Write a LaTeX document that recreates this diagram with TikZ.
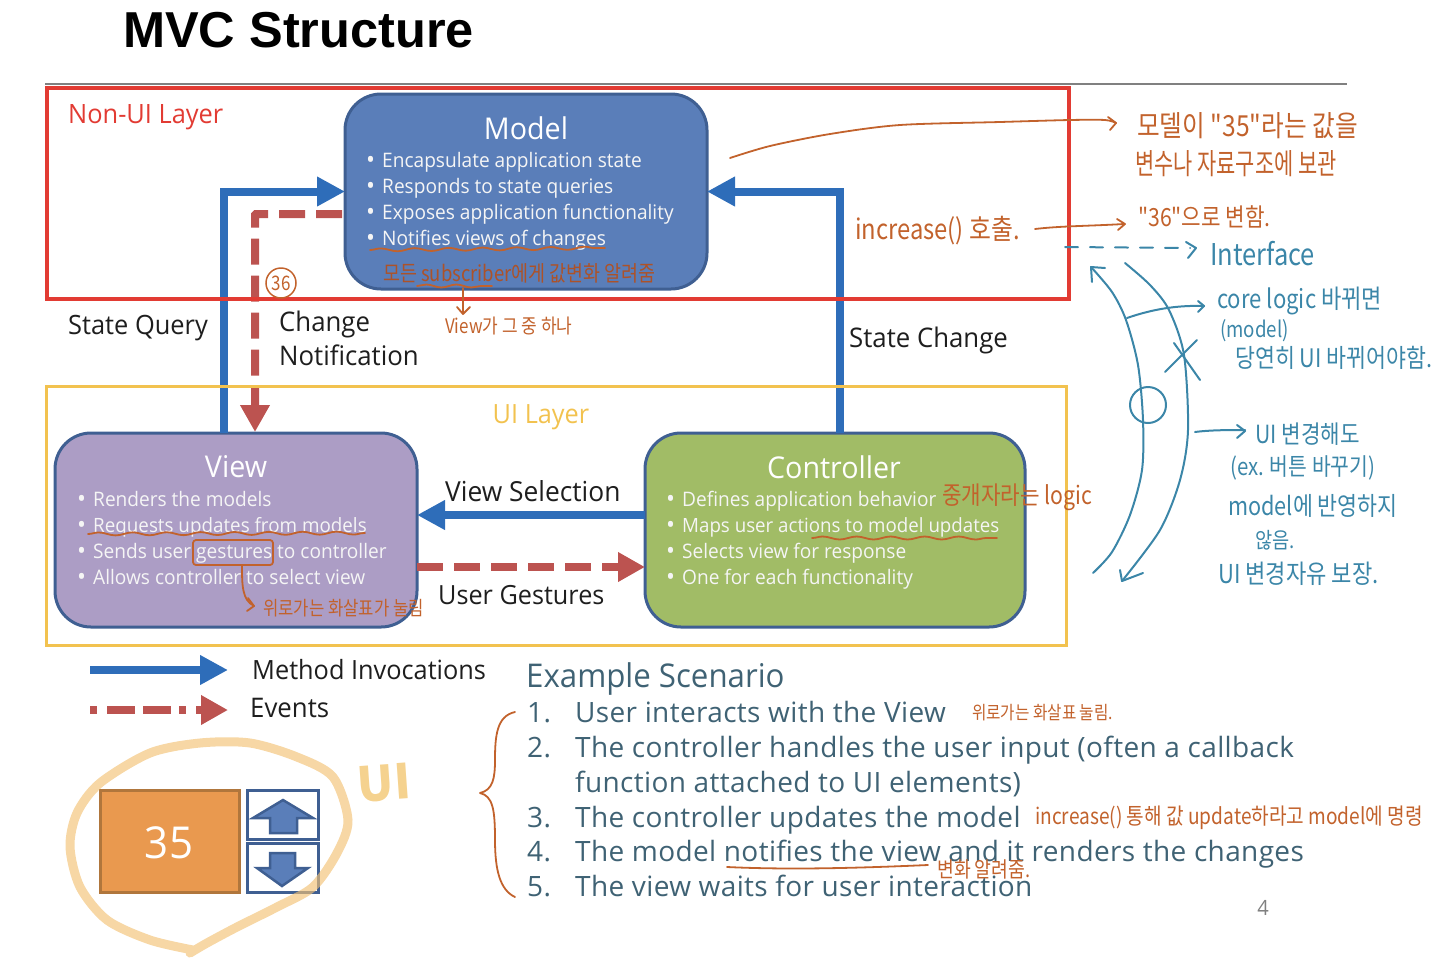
\documentclass[tikz,border=0pt]{standalone}
\usepackage{fontspec}
\usetikzlibrary{arrows.meta,decorations.pathmorphing,shapes.geometric}
\setmainfont{Open Sans}
\newfontfamily\bodyf[FakeStretch=0.955]{Open Sans}
\newfontfamily\exf[LetterSpace=1.3]{Open Sans}
\newfontfamily\titlef{Liberation Sans}
\newfontfamily\kr[FakeStretch=0.85]{Noto Sans CJK KR}
\newfontfamily\krn[FakeStretch=0.72]{Noto Sans CJK KR}
\newfontfamily\krb{Noto Sans CJK KR}
\definecolor{boxedge}{HTML}{3F5F92}
\definecolor{modelfill}{HTML}{5A7EB9}
\definecolor{viewfill}{HTML}{AC9DC5}
\definecolor{ctrlfill}{HTML}{A1BC66}
\definecolor{arrowblue}{HTML}{2E6DB9}
\definecolor{arrowred}{HTML}{BC5350}
\definecolor{redbox}{HTML}{E23B33}
\definecolor{yelbox}{HTML}{F2C24F}
\definecolor{extext}{HTML}{3F6274}
\definecolor{hwo}{HTML}{C2622C}
\definecolor{hwd}{HTML}{AD5228}
\definecolor{hwt}{HTML}{3B86A8}
\definecolor{uiring}{HTML}{F2C174}
\definecolor{uimarkc}{HTML}{F5D28F}
\definecolor{numfill}{HTML}{E9994F}
\definecolor{numedge}{HTML}{B0763C}
\definecolor{labeltxt}{HTML}{1E1E1E}
\tikzset{
  card/.style={draw=boxedge,line width=3pt,rounded corners=36pt,inner sep=0,outer sep=0,anchor=north west},
  cardtitle/.style={inner sep=0,text=white,font=\bodyf\fontsize{30}{30}\selectfont},
  dotmark/.style={inner sep=0,anchor=base west,text=white!96!black,font=\bodyf\fontsize{25}{25}\selectfont},
  bullet/.style={inner sep=0,anchor=base west,text=white!96!black,font=\bodyf\fontsize{20}{20}\selectfont},
  lab/.style={inner sep=0,anchor=base west,text=labeltxt,font=\bodyf\fontsize{27}{27}\selectfont},
  extxt/.style={inner sep=0,anchor=base west,text=extext,font=\exf\fontsize{28}{28}\selectfont},
  callarrow/.style={draw=arrowblue,line width=8pt,-{Triangle[length=28pt,width=28pt]}},
  eventarrow/.style={draw=arrowred,line width=8pt,dash pattern=on 26pt off 11pt,-{Triangle[length=27pt,width=28pt,fill=arrowred]}},
  hando/.style={draw=hwo,line width=1.8pt,line cap=round,line join=round},
  handt/.style={draw=hwt,line width=2pt,line cap=round,line join=round},
  ao/.style={inner sep=0,anchor=west,text=hwo,font=\kr\fontsize{#1}{#1}\selectfont},
  at/.style={inner sep=0,anchor=west,text=hwt,font=\kr\fontsize{#1}{#1}\selectfont},
  squig/.style={hando,decorate,decoration={snake,amplitude=1.5pt,segment length=34pt}},
  btn/.style={draw=boxedge,line width=3pt,fill=white,inner sep=0,outer sep=0,anchor=north west},
  btnarrow/.style={draw=boxedge,line width=2.5pt,fill=modelfill,line join=miter}
}
\begin{document}
\begin{tikzpicture}[x=1pt,y=-1pt]
\useasboundingbox (0,0) rectangle (1440,967);
% title
\node[inner sep=0,anchor=base west,font=\titlef\bfseries\fontsize{50.5}{50.5}\selectfont] (title) at (123,47) {MVC Structure};
\draw[draw=black!50,line width=2.5pt] (45,84) coordinate (ruleL) -- (1347,84) coordinate (ruleR);
% cards
\node[card,fill=modelfill,minimum width=362pt,minimum height=195pt] (model) at (345,94) {};
\node[card,fill=viewfill,minimum width=362pt,minimum height=194pt] (view) at (55,433) {};
\node[card,fill=ctrlfill,minimum width=380pt,minimum height=194pt] (ctrl) at (645,433) {};
\coordinate (qx) at (224,433);
\coordinate (cx) at (840,433);
\coordinate (nstart) at (342,214);
\coordinate (nx) at (255,432);
% connectors
\draw[callarrow] (qx) |- (model.west);
\draw[callarrow] (cx) |- (model.east);
\draw[eventarrow,rounded corners=1pt] (nstart) -| (nx);
\draw[callarrow] (ctrl.west |- 0,515) -- (view.east |- 0,515);
\draw[eventarrow] (view.east |- 0,567) -- (ctrl.west |- 0,567);
% layer frames
\node[draw=redbox,line width=3.5pt,inner sep=0,outer sep=0,anchor=north west,minimum width=1022pt,minimum height=211pt] (nonui) at (47,88) {};
\node[draw=yelbox,line width=3pt,inner sep=0,outer sep=0,anchor=north west,minimum width=1020pt,minimum height=259pt] (uilayer) at (46,386) {};
\node[inner sep=0,anchor=base west,text=redbox,font=\bodyf\fontsize{26.6}{27}\selectfont] (nonuit) at (68,123) {Non-UI Layer};
\node[inner sep=0,anchor=base,text=yelbox,font=\bodyf\fontsize{26.5}{26.5}\selectfont] (uit) at (541,423) {UI Layer};
% card contents
\node[cardtitle] (mt) at (526,128) {Model};
\node[dotmark] (m0) at (366,168) {•};\node[bullet] (m1) at (382,167) {Encapsulate application state};
\node[dotmark] (m0b) at (366,194) {•};\node[bullet] (m2) at (382,193) {Responds to state queries};
\node[dotmark] (m0c) at (366,220) {•};\node[bullet] (m3) at (382,219) {Exposes application functionality};
\node[dotmark] (m0d) at (366,246) {•};\node[bullet] (m4) at (382,245) {Notifies views of changes};
\node[cardtitle] (vt) at (236,467) {View};
\node[dotmark] (v0) at (77,507) {•};\node[bullet] (v1) at (93,506) {Renders the models};
\node[dotmark] (v0b) at (77,533) {•};\node[bullet,font=\bodyf\fontsize{19.7}{20}\selectfont] (v2) at (93,532) {Requests updates from models};
\node[dotmark] (v0c) at (77,559) {•};\node[bullet] (v3) at (93,558) {Sends user gestures to controller};
\node[dotmark] (v0d) at (77,585) {•};\node[bullet] (v4) at (93,584) {Allows controller to select view};
\node[cardtitle] (ct) at (834,467) {Controller};
\node[dotmark] (c0) at (666,507) {•};\node[bullet] (c1) at (682,506) {Defines application behavior};
\node[dotmark] (c0b) at (666,533) {•};\node[bullet,font=\bodyf\fontsize{19.6}{20}\selectfont] (c2) at (682,532) {Maps user actions to model updates};
\node[dotmark] (c0c) at (666,559) {•};\node[bullet] (c3) at (682,558) {Selects view for response};
\node[dotmark] (c0d) at (666,585) {•};\node[bullet] (c4) at (682,584) {One for each functionality};
% labels
\node[lab,font=\bodyf\fontsize{26.6}{27}\selectfont] (l1) at (68,334) {State Query};
\node[lab] (l2) at (279,331) {Change};
\node[lab] (l3) at (279,365) {Notification};
\node[lab] (l4) at (849,347) {State Change};
\node[lab,font=\bodyf\fontsize{27.6}{28}\selectfont] (l5) at (445,501) {View Selection};
\node[lab,font=\bodyf\fontsize{26.4}{28}\selectfont] (l6) at (438,604) {User Gestures};
\node[lab,font=\bodyf\fontsize{26.5}{28}\selectfont] (l7) at (252,679) {Method Invocations};
\node[lab] (l8) at (250,717) {Events};
% legend
\coordinate (la) at (90,670);\coordinate (lb) at (228,670);
\coordinate (lc) at (90,710);\coordinate (ld) at (228,710);
\draw[callarrow] (la) -- (lb);
\draw[eventarrow,dash pattern=on 7pt off 10pt on 28pt off 8pt on 28pt off 8pt] (lc) -- (ld);
% example
\node[inner sep=0,anchor=base west,text=extext,font=\bodyf\fontsize{32.7}{33}\selectfont] (ex0) at (526,687) {Example Scenario};
\node[extxt] (n1) at (527,722) {1.};\node[extxt] (e1) at (575,722) {User interacts with the View};
\node[extxt] (n2) at (527,757) {2.};\node[extxt] (e2) at (575,757) {The controller handles the user input (often a callback};
\node[extxt] (e2b) at (575,792) {function attached to UI elements)};
\node[extxt] (n3) at (527,827) {3.};\node[extxt] (e3) at (575,827) {The controller updates the model};
\node[extxt] (n4) at (527,861) {4.};\node[extxt] (e4) at (575,861) {The model notifies the view and it renders the changes};
\node[extxt] (n5) at (527,896) {5.};\node[extxt] (e5) at (575,896) {The view waits for user interaction};
\node[inner sep=0,text=black!50,font=\bodyf\fontsize{21}{21}\selectfont] (pg) at (1263,908) {4};
% widget
\node[draw=numedge,line width=3pt,fill=numfill,inner sep=0,outer sep=0,anchor=north west,minimum width=139pt,minimum height=102pt] (num) at (100,790) {};
\node[inner sep=0,text=white,font=\bodyf\fontsize{44}{44}\selectfont] (numt) at (169,843) {35};
\node[btn,minimum width=71pt,minimum height=49pt] (up) at (247,790) {};
\node[btn,minimum width=71pt,minimum height=49pt] (down) at (247,843) {};
\draw[btnarrow] (283,800) -- (313,818) -- (297,818) -- (297,833) -- (270,833) -- (270,818) -- (253,818) -- cycle;
\draw[btnarrow] (270,853) -- (295,853) -- (295,868) -- (308,868) -- (282,886) -- (257,868) -- (270,868) -- cycle;
\draw[uiring,line width=9pt,opacity=.65,line cap=round] plot[smooth] coordinates {(193,950)(150,940)(107,920)(80,887)(70,847)(77,813)(100,783)(150,753)(200,743)(250,743)(297,757)(333,777)(348,820)(337,853)(313,887)(277,907)(237,927)(207,943)(190,953)};
\node[inner sep=0,text=uimarkc,rotate=4,font=\krb\bfseries\fontsize{48}{48}\selectfont] (uimark) at (384,783) {UI};
% hand annotations: orange
\draw[hando] plot[smooth] coordinates {(730,158)(770,146)(830,134)(900,125)(1000,122)(1070,120)(1105,120)(1116,123)};
\draw[hando] (1108,117) -- (1116,123) -- (1110,130);
\draw[hando] (1035,229) .. controls (1060,226) and (1090,226) .. (1124,224);
\draw[hando] (1117,219) -- (1125,224) -- (1118,230);
\node[ao=29] (a1) at (1137,126) {모델이 "35"라는 값을};
\node[ao=29,font=\krn\fontsize{29}{29}\selectfont] (a2) at (1135,164) {변수나 자료구조에 보관};
\node[ao=28] (a3) at (855,231) {increase() 호출.};
\node[ao=25] (a4) at (1138,217) {"36"으로 변함.};
\node[ao=25] (a5) at (942,497) {중개자라는 logic};
\node[ao=21.7,text=hwd] (a6) at (383,273) {모든 subscriber에게 값변화 알려줌};
\node[ao=20] (a7) at (445,326) {View가 그 중 하나};
\node[ao=19.6] (a8) at (263,608) {위로가는 화살표가 눌림};
\node[ao=18.4] (a9) at (972,713) {위로가는 화살표 눌림.};
\node[ao=22.5] (a10) at (1035,818) {increase() 통해 값 update하라고 model에 명령};
\node[ao=21.5] (a11) at (937,869) {변화 알려줌.};
\draw[squig] (370,250) -- (605,248);
\draw[squig,segment length=30pt] (417,286) -- (492,286);
\draw[hando] (463,288) -- (463,313);
\draw[hando] (457,307) -- (463,314) -- (470,307);
\draw[squig] (88,534) -- (365,533);
\draw[hando,rounded corners=3pt] (193,540) rectangle (273,565);
\draw[hando] (242,565) .. controls (242,585) and (242,600) .. (254,606);
\draw[hando] (248,598) -- (254,606) -- (247,611);
\draw[squig] (812,538) -- (997,538);
\draw[hando] (727,867) .. controls (790,870) and (860,868) .. (928,865);
\draw[hando] (515,712) .. controls (497,716) and (495,735) .. (495,760) .. controls (495,778) and (493,790) .. (480,793) .. controls (493,796) and (495,810) .. (495,840) .. controls (495,870) and (500,890) .. (515,897);
\node[draw=hwo,line width=1.5pt,circle,inner sep=0,minimum size=30pt,text=hwo,font=\kr\fontsize{20}{20}\selectfont] (mark36) at (281,283) {36};
% hand annotations: teal
\draw[handt,dash pattern=on 13pt off 12pt] (1065,247) -- (1190,248);
\draw[handt] (1186,242) -- (1196,248) -- (1188,258);
\draw[handt] plot[smooth] coordinates {(1091,267)(1112,292)(1126,320)(1138,365)(1143,420)(1142,470)(1130,515)(1112,552)(1093,573)};
\draw[handt] (1092,282) -- (1091,267) -- (1105,268);
\draw[handt] plot[smooth] coordinates {(1125,263)(1150,285)(1169,310)(1184,355)(1188,430)(1180,480)(1160,530)(1122,581)};
\draw[handt] (1120,570) -- (1122,581) -- (1143,573);
\draw[handt] (1127,318) .. controls (1150,310) and (1175,305) .. (1204,306);
\draw[handt] (1198,301) -- (1204,306) -- (1198,312);
\draw[handt] (1165,372) -- (1197,340);
\draw[handt] (1174,343) -- (1200,380);
\draw[handt] (1148,405) circle (18pt);
\draw[handt] (1195,432) .. controls (1210,430) and (1230,430) .. (1245,430);
\draw[handt] (1237,425) -- (1245,431) -- (1237,438);
\node[at=30] (t1) at (1210,254) {Interface};
\node[at=26] (t2) at (1217,301) {core logic 바뀌면};
\node[at=22] (t3) at (1220,331) {(model)};
\node[at=25.5] (t4) at (1235,358) {당연히 UI 바뀌어야함.};
\node[at=25] (t5) at (1255,434) {UI 변경해도};
\node[at=24] (t6) at (1230,468) {(ex. 버튼 바꾸기)};
\node[at=25.5] (t7) at (1228,506) {model에 반영하지};
\node[at=22] (t8) at (1255,540) {않음.};
\node[at=26] (t9) at (1218,574) {UI 변경자유 보장.};
\end{tikzpicture}
\end{document}
